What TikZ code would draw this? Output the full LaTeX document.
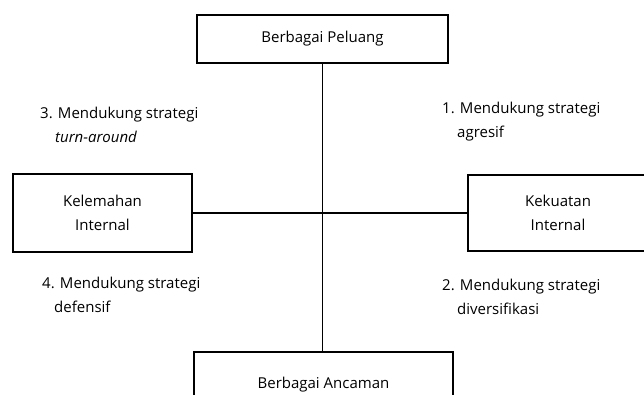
\documentclass[tikz,border=0pt]{standalone}
\usepackage{fontspec}
\setmainfont{Open Sans}
\begin{document}
\begin{tikzpicture}[x=1pt,y=-1pt,
    font=\fontsize{15}{24}\selectfont,
    kotak/.style={draw,line width=1.6pt,align=center,inner sep=0pt},
    ket/.style={anchor=north west,align=left,inner sep=0pt}]
    \useasboundingbox (0,0) rectangle (644,394);
    \clip (0,0) rectangle (644,394);
    \node [kotak,minimum width=251pt,minimum height=48pt] (peluang) at (322.5,39) {Berbagai Peluang};
    \node [kotak,minimum width=179pt,minimum height=78pt] (kelemahan) at (102.5,213) {Kelemahan\\Internal};
    \node [kotak,minimum width=180pt,minimum height=76pt] (kekuatan) at (558,213) {Kekuatan\\Internal};
    \node [kotak,minimum width=259pt,minimum height=66pt] (ancaman) at (323.5,385) {Berbagai Ancaman};
    \draw [line width=1.6pt] (peluang.south) -- (peluang.south |- ancaman.north);
    \draw [line width=1.6pt] (kelemahan) -- (kekuatan);
    \node [ket] (s3) at (40,107) {3. Mendukung strategi\\\hspace*{15pt}\textit{turn-around}};
    \node [ket] (s1) at (442,102) {1. Mendukung strategi\\\hspace*{15pt}agresif};
    \node [ket] (s4) at (42,277) {4. Mendukung strategi\\\hspace*{12pt}defensif};
    \node [ket] (s2) at (442,279) {2. Mendukung strategi\\\hspace*{15pt}diversifikasi};
\end{tikzpicture}
\end{document}
